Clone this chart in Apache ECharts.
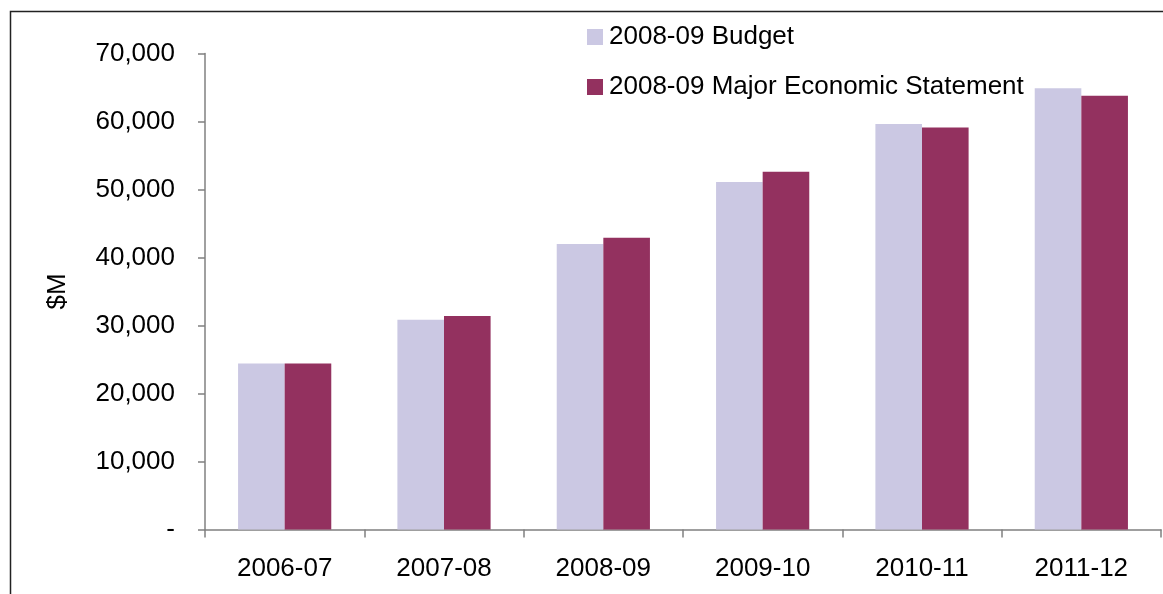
<!DOCTYPE html>
<html>
<head>
<meta charset="utf-8">
<script src="https://cdn.jsdelivr.net/npm/echarts@6/dist/echarts.min.js"></script>
<style>
  html, body { margin: 0; padding: 0; background: #fff; }
  #chart { width: 1163px; height: 594px; }
</style>
</head>
<body>
<div id="chart"></div>
<script>
// Financial years on the category axis
const years = ['2006-07', '2007-08', '2008-09', '2009-10', '2010-11', '2011-12'];

// Estimates in $M for each publication
const budget = [24400, 30850, 42000, 51100, 59650, 64900];
const majorEconomicStatement = [24400, 31400, 42900, 52600, 59100, 63800];

const seriesNames = ['2008-09 Budget', '2008-09 Major Economic Statement'];

const FONT = '"Liberation Sans", Arial, sans-serif';
const FONT_SIZE = 26;
const chart = echarts.init(document.getElementById('chart'));

chart.setOption({
  animation: false,
  backgroundColor: '#ffffff',
  textStyle: { fontFamily: FONT },
  graphic: [
    {
      type: 'polyline',
      shape: { points: [[10.5, 600], [10.5, 11.5], [1170, 11.5]] },
      style: { stroke: '#222', lineWidth: 1.5, fill: null },
      silent: true
    }
  ],
  legend: {
    orient: 'vertical',
    left: 587,
    top: 24,
    padding: 0,
    itemWidth: 16,
    itemHeight: 16,
    itemGap: 24,
    icon: 'rect',
    data: seriesNames,
    textStyle: { fontFamily: FONT, fontSize: FONT_SIZE, color: '#000', lineHeight: 26, padding: [0, 0, 0, 1] }
  },
  grid: { left: 205, right: 2, top: 53.5, bottom: 64.5, containLabel: false },
  xAxis: {
    type: 'category',
    data: years,
    axisLine: { lineStyle: { color: '#808080', width: 1.5 } },
    axisTick: { show: true, length: 8, lineStyle: { color: '#808080', width: 1.5 } },
    axisLabel: { color: '#000', fontSize: FONT_SIZE, fontFamily: FONT, margin: 26 },
    splitLine: { show: false }
  },
  yAxis: {
    type: 'value',
    min: 0,
    max: 70000,
    interval: 10000,
    name: '$M',
    nameLocation: 'middle',
    nameRotate: 90,
    nameGap: 134,
    nameTextStyle: { color: '#000', fontSize: FONT_SIZE, fontFamily: FONT },
    axisLine: { show: true, lineStyle: { color: '#808080', width: 1.5 } },
    axisTick: { show: true, length: 7, lineStyle: { color: '#808080', width: 1.5 } },
    axisLabel: {
      color: '#000',
      fontSize: FONT_SIZE,
      fontFamily: FONT,
      margin: 30,
      formatter: function (v) { return v === 0 ? '-' : v.toLocaleString('en-US'); }
    },
    splitLine: { show: false }
  },
  series: [
    {
      name: seriesNames[0],
      type: 'bar',
      data: budget,
      itemStyle: { color: '#cbc8e3' },
      barGap: '0%',
      barCategoryGap: '41.5%'
    },
    {
      name: seriesNames[1],
      type: 'bar',
      data: majorEconomicStatement,
      itemStyle: { color: '#93315f' },
      barGap: '0%',
      barCategoryGap: '41.5%'
    }
  ]
});
</script>
</body>
</html>
